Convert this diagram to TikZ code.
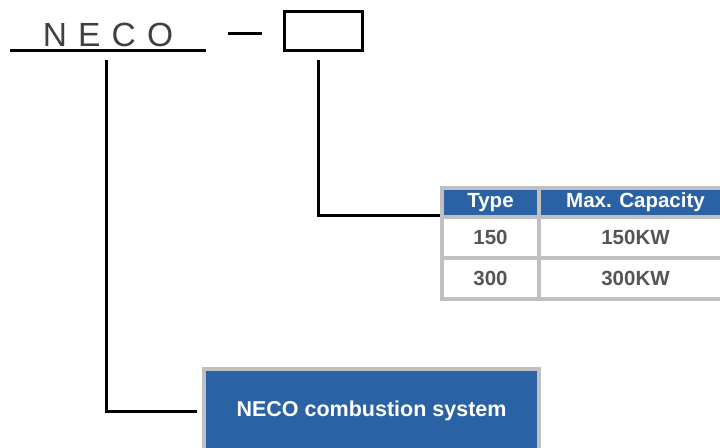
\documentclass[tikz,border=0pt]{standalone}
\usepackage{fontspec}
\setmainfont{Liberation Sans}
\usetikzlibrary{positioning}

\definecolor{necoblue}{HTML}{2A62A5}
\definecolor{framegray}{HTML}{C0C0C0}
\definecolor{cellgray}{HTML}{555555}
\definecolor{titlegray}{HTML}{404040}

\begin{document}
\begin{tikzpicture}[x = 1pt, y = -1pt,
		head/.style={rectangle, fill=necoblue, text=white, inner sep = 0pt, outer sep = 0pt, minimum height = 25pt, font=\bfseries\fontsize{20.5}{24}\selectfont},
		cell/.style={rectangle, fill=white, text=cellgray, inner sep = 0pt, outer sep = 0pt, minimum height = 37pt, font=\bfseries\fontsize{20.5}{24}\selectfont},
		link/.style={line width = 3pt}
	]
	\useasboundingbox (0, 0) rectangle (720, 447);
	\clip (0, 0) rectangle (720, 447);
	
	% model code
	\node[anchor = base, inner sep = 0pt, text = titlegray, font=\fontsize{33.5}{40}\selectfont\addfontfeature{LetterSpace=5.5}] (neco) at (108, 46) {N E C O};
	\draw[link] (10, 50.5) -- (206, 50.5);
	\draw[link] (228, 33.5) -- (262, 33.5);
	\node[rectangle, draw, line width = 3pt, inner sep = 0pt, minimum width = 78pt, minimum height = 39pt] (code) at (323.5, 31) {};
	
	% capacity table
	\node[rectangle, fill = framegray, inner sep = 0pt, outer sep = 0pt, minimum width = 290pt, minimum height = 115pt, anchor = north west] (capacity) at (440, 186) {};
	\node[head, minimum width = 93pt, anchor = north west] (type) at (444, 190) {Type};
	\node[head, minimum width = 189pt, right = 4pt of type] (maxcap) {Max. Capacity};
	\node[cell, minimum width = 93pt, below = 4pt of type] (type150) {150};
	\node[cell, minimum width = 189pt, below = 4pt of maxcap] (cap150) {150KW};
	\node[cell, minimum width = 93pt, below = 4pt of type150] (type300) {300};
	\node[cell, minimum width = 189pt, below = 4pt of cap150] (cap300) {300KW};
	
	% system box
	\node[rectangle, draw = framegray, line width = 4pt, fill = necoblue, text = white, minimum width = 335pt, minimum height = 84pt, font=\bfseries\fontsize{21.5}{26}\selectfont] (system) at (371.5, 411) {NECO combustion system};
	
	\coordinate (necofoot) at (106, 60);
	\coordinate (codefoot) at (318, 60);
	\draw[link] (necofoot) |- (system.west) [shorten >= 5pt];
	\draw[link] (codefoot) |- (capacity.west |- type.south);
	
\end{tikzpicture}
\end{document}
